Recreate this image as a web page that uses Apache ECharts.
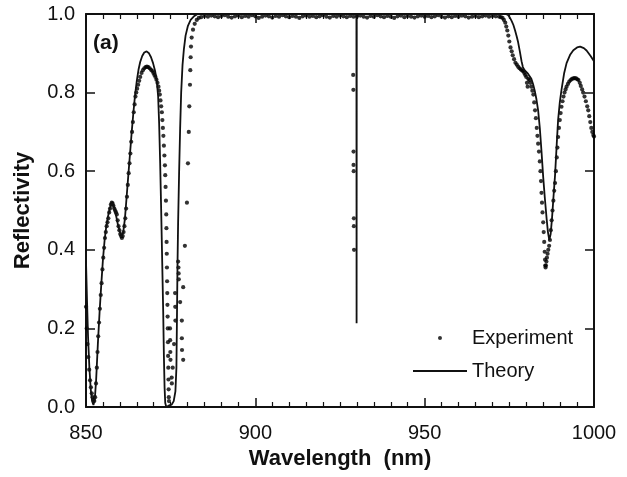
<!DOCTYPE html>
<html>
<head>
<meta charset="utf-8">
<script src="https://cdn.jsdelivr.net/npm/echarts@6/dist/echarts.min.js"></script>
<style>
  html, body { margin: 0; padding: 0; background: #fff; }
  #chart { width: 627px; height: 477px; }
</style>
</head>
<body>
<div id="chart"></div>
<script>
// wavelength (nm) / reflectivity
const expX = [
  850.0, 850.2, 850.45, 850.7, 850.95, 851.2, 851.45, 851.7, 851.95, 852.2, 852.45, 852.7, 852.95,
  853.2, 853.4, 853.6, 853.85, 854.1, 854.35, 854.6, 854.85, 855.1, 855.35, 855.6, 855.85, 856.1,
  856.35, 856.6, 856.85, 857.1, 857.35, 857.6, 857.85, 858.1, 858.35, 858.6, 858.85, 859.1, 859.35,
  859.6, 859.85, 860.1, 860.35, 860.6, 860.85, 861.1, 861.35, 861.6, 861.85, 862.1, 862.35, 862.6,
  862.85, 863.1, 863.35, 863.6, 863.85, 864.1, 864.35, 864.6, 864.85, 865.1, 865.4, 865.7, 866.0,
  866.4, 866.8, 867.2, 867.6, 868.0, 868.4, 868.8, 869.2, 869.6, 869.9, 870.2, 870.5, 870.8, 871.1,
  871.4, 871.6, 871.8, 872.0, 872.2, 872.4, 872.55, 872.7, 872.85, 873.0, 873.15, 873.3, 873.4,
  873.5, 873.6, 873.7, 873.75, 873.8, 873.85, 873.9, 873.95, 874.0, 874.05, 874.1, 874.15, 874.2,
  874.25, 874.3, 874.35, 874.4, 874.45, 874.5,
  874.8, 874.85, 874.9, 874.95, 875.3, 875.35, 875.6, 876.0, 876.3, 876.35, 876.4, 877.2, 877.3,
  877.35, 877.4, 877.8, 878.3, 878.3, 878.35, 878.7, 878.7, 879.2, 879.8, 880.1, 880.35, 880.5,
  880.7, 880.8, 880.9, 881.0, 881.2, 881.6, 882.1, 882.7, 883.3,
  884, 885, 886, 887, 888, 889, 890, 891, 892, 893, 894, 895, 896, 897, 898, 899, 900, 901, 902,
  903, 904, 905, 906, 907, 908, 909, 910, 911, 912, 913, 914, 915, 916, 917, 918, 919, 920, 921,
  922, 923, 924, 925, 926, 927, 928, 929,
  928.9, 928.95, 929.0, 929.0, 929.05, 929.1, 929.1, 929.15,
  930, 931, 932, 933, 934, 935, 936, 937, 938, 939, 940, 941, 942, 943, 944, 945, 946, 947, 948,
  949, 950, 951, 952, 953, 954, 955, 956, 957, 958, 959, 960, 961, 962, 963, 964, 965, 966, 967,
  968, 969, 970, 971, 972,
  972.5, 973.0, 973.4, 973.8, 974.1, 974.4, 974.7, 975.0, 975.35, 975.7, 976.0, 976.4, 976.8,
  977.2, 977.6, 978.0, 978.4, 978.8, 979.1, 979.4, 979.7, 980.0, 980.2, 980.4, 980.6, 980.9,
  981.2, 981.5, 981.8, 982.1, 982.35, 982.6, 982.85, 983.1, 983.3, 983.5, 983.75, 984.0, 984.2,
  984.35, 984.5, 984.65, 984.8, 985.0, 985.15, 985.3, 985.45, 985.55, 985.6, 985.7, 985.8, 985.95,
  986.1, 986.3, 986.5, 986.75, 987.0, 987.25, 987.5, 987.75, 988.0, 988.25, 988.5, 988.75, 989.0,
  989.2, 989.4, 989.65, 989.9, 990.15, 990.4, 990.7, 991.0, 991.3, 991.6, 991.9, 992.3, 992.7,
  993.1, 993.5, 993.9, 994.3, 994.7, 995.1, 995.4, 995.8, 996.1, 996.5, 996.8, 997.2, 997.6,
  998.0, 998.3, 998.6, 998.9, 999.2, 999.5, 999.8, 1000.0
];
const expY = [
  0.255, 0.20, 0.16, 0.127, 0.095, 0.068, 0.05, 0.035, 0.025, 0.018, 0.015, 0.025, 0.06,
  0.10, 0.14, 0.18, 0.215, 0.25, 0.285, 0.315, 0.35, 0.38, 0.405, 0.43, 0.445, 0.46,
  0.47, 0.48, 0.495, 0.505, 0.515, 0.52, 0.518, 0.512, 0.505, 0.50, 0.495, 0.49, 0.475,
  0.46, 0.45, 0.44, 0.435, 0.43, 0.435, 0.445, 0.46, 0.48, 0.505, 0.535, 0.565, 0.595,
  0.62, 0.645, 0.675, 0.70, 0.725, 0.75, 0.77, 0.79, 0.80, 0.81, 0.82, 0.83, 0.84,
  0.85, 0.857, 0.862, 0.865, 0.866, 0.865, 0.862, 0.858, 0.855, 0.85, 0.845, 0.84, 0.833, 0.825,
  0.815, 0.805, 0.795, 0.78, 0.765, 0.75, 0.73, 0.71, 0.69, 0.665, 0.64, 0.615, 0.59,
  0.56, 0.525, 0.49, 0.455, 0.42, 0.39, 0.355, 0.32, 0.29, 0.26, 0.23, 0.20, 0.165,
  0.13, 0.10, 0.07, 0.045, 0.025, 0.015,
  0.20, 0.17, 0.14, 0.12, 0.075, 0.06, 0.10, 0.16, 0.29, 0.255, 0.22, 0.37, 0.355,
  0.34, 0.325, 0.267, 0.22, 0.175, 0.145, 0.305, 0.12, 0.41, 0.52, 0.62, 0.70, 0.765,
  0.82, 0.857, 0.89, 0.917, 0.94, 0.96, 0.975, 0.985, 0.99,
  0.992, 0.995, 0.993, 0.996, 0.994, 0.992, 0.995, 0.997, 0.993, 0.991, 0.994, 0.996, 0.992, 0.995, 0.993, 0.997, 0.994, 0.990, 0.993,
  0.996, 0.994, 0.991, 0.995, 0.993, 0.997, 0.994, 0.992, 0.995, 0.993, 0.990, 0.994, 0.996, 0.993, 0.995, 0.992, 0.994, 0.997, 0.993,
  0.991, 0.995, 0.993, 0.996, 0.994, 0.992, 0.995, 0.993,
  0.845, 0.807, 0.65, 0.616, 0.60, 0.48, 0.46, 0.40,
  0.994, 0.996, 0.993, 0.991, 0.995, 0.993, 0.997, 0.994, 0.992, 0.995, 0.993, 0.990, 0.994, 0.996, 0.992, 0.995, 0.993, 0.991, 0.994,
  0.996, 0.993, 0.995, 0.992, 0.994, 0.997, 0.993, 0.991, 0.994, 0.992, 0.995, 0.993, 0.996, 0.994, 0.991, 0.993, 0.995, 0.992, 0.994,
  0.996, 0.993, 0.995, 0.994, 0.993,
  0.992, 0.99, 0.985, 0.978, 0.968, 0.958, 0.945, 0.93, 0.915, 0.905, 0.895, 0.885, 0.876,
  0.871, 0.866, 0.862, 0.859, 0.856, 0.855, 0.85, 0.845, 0.84, 0.825, 0.815, 0.835, 0.832,
  0.825, 0.815, 0.805, 0.795, 0.775, 0.755, 0.735, 0.71, 0.69, 0.67, 0.65, 0.625, 0.60,
  0.575, 0.545, 0.52, 0.495, 0.47, 0.445, 0.42, 0.395, 0.375, 0.36, 0.355, 0.36, 0.37,
  0.38, 0.39, 0.40, 0.41, 0.425, 0.45, 0.475, 0.50, 0.525, 0.55, 0.57, 0.60, 0.635,
  0.66, 0.687, 0.71, 0.73, 0.748, 0.764, 0.778, 0.79, 0.80, 0.808, 0.815, 0.822, 0.828,
  0.832, 0.835, 0.836, 0.837, 0.836, 0.834, 0.832, 0.825, 0.817, 0.808, 0.80, 0.79, 0.778,
  0.765, 0.755, 0.74, 0.725, 0.71, 0.70, 0.692, 0.688
];

const theoryX = [
  850.0, 850.3, 850.6, 851.0, 851.4, 851.8, 852.2, 852.6, 853.0, 853.5, 854.0, 854.5, 855.0,
  855.5, 856.0, 856.5, 857.0, 857.6, 858.2, 858.8, 859.4, 860.0, 860.6, 861.0, 861.5, 862.0,
  862.5, 863.0, 863.5, 864.0, 864.5, 865.0, 865.5, 866.0, 866.6, 867.2, 867.9, 868.6, 869.2,
  869.8, 870.4, 870.9, 871.3, 871.6, 871.9, 872.2, 872.5, 872.8, 873.0, 873.2, 873.4, 873.7,
  874.5, 875.3, 875.9, 876.4, 876.7, 876.85, 877.0, 877.2, 877.5, 877.8, 878.1, 878.5, 878.9,
  879.4, 880.1, 880.9, 882.0, 883.0,
  929.85, 929.9, 929.95,
  974.0, 974.7, 975.2, 975.7, 976.2, 976.7, 977.2, 977.6, 978.1, 978.6, 979.0, 979.5, 980.0,
  980.5, 981.0, 981.5, 982.0, 982.5, 983.0, 983.5, 984.0, 984.5, 985.0, 985.5, 986.0, 986.4,
  986.8, 987.2, 987.6, 988.0, 988.5, 989.0, 989.4, 989.9, 990.4, 991.2, 991.9, 993.0, 993.9,
  995.0, 995.9, 997.0, 997.8, 999.0, 1000.0
];
const theoryY = [
  0.37, 0.27, 0.18, 0.10, 0.045, 0.015, 0.005, 0.02, 0.07, 0.16, 0.24, 0.31, 0.375,
  0.425, 0.46, 0.485, 0.505, 0.52, 0.512, 0.49, 0.465, 0.445, 0.433, 0.445, 0.48, 0.535,
  0.59, 0.645, 0.70, 0.75, 0.795, 0.83, 0.858, 0.878, 0.893, 0.902, 0.905, 0.90, 0.89,
  0.875, 0.855, 0.83, 0.79, 0.72, 0.62, 0.50, 0.37, 0.24, 0.13, 0.05, 0.01, 0.0,
  0.004, 0.006, 0.015, 0.04, 0.10, 0.22, 0.35, 0.47, 0.60, 0.71, 0.80, 0.87, 0.91,
  0.945, 0.97, 0.985, 0.995, 1.0,
  1.0, 0.213, 1.0,
  1.0, 0.997, 0.99, 0.982, 0.972, 0.958, 0.942, 0.928, 0.905, 0.88, 0.865, 0.857, 0.852,
  0.848, 0.843, 0.835, 0.822, 0.805, 0.783, 0.755, 0.71, 0.65, 0.585, 0.53, 0.48, 0.445,
  0.425, 0.44, 0.48, 0.53, 0.59, 0.67, 0.73, 0.775, 0.807, 0.85, 0.875, 0.897, 0.908,
  0.915, 0.917, 0.913, 0.907, 0.893, 0.88
];

const xMin = 850, xMax = 1000, xStep = 50;
const yMin = 0, yMax = 1, yStep = 0.2;

const ink = '#111';
const font = 'Liberation Sans, Arial, sans-serif';

const chart = echarts.init(document.getElementById('chart'));

function xAxisBase(position, showLabel) {
  return {
    type: 'value',
    position,
    min: xMin,
    max: xMax,
    interval: xStep,
    axisLine: { show: true, onZero: false, lineStyle: { color: ink, width: 2 } },
    axisTick: { show: true, inside: true, length: 9, lineStyle: { color: ink, width: 1.5 } },
    minorTick: { show: true, splitNumber: 10, length: 5, lineStyle: { color: ink, width: 1.2 } },
    axisLabel: {
      show: showLabel, margin: 16, color: ink, fontSize: 20, fontFamily: font,
      formatter: v => String(v),
    },
    splitLine: { show: false },
  }
}

function yAxisBase(position, showLabel) {
  return {
    type: 'value',
    position,
    min: yMin,
    max: yMax,
    interval: yStep,
    axisLine: { show: true, onZero: false, lineStyle: { color: ink, width: 2 } },
    axisTick: { show: true, inside: true, length: 9, lineStyle: { color: ink, width: 1.5 } },
    axisLabel: {
      show: showLabel, margin: 11, color: ink, fontSize: 20, fontFamily: font,
      formatter: v => v.toFixed(1),
    },
    splitLine: { show: false },
  }
}

chart.setOption({
  animation: false,
  backgroundColor: '#fff',
  title: {
    text: '(a)',
    left: 93,
    top: 33,
    padding: 0,
    textStyle: { fontSize: 21, fontWeight: 'bold', fontFamily: font, color: ink },
  },
  legend: {
    orient: 'vertical',
    left: 413,
    top: 327,
    padding: 0,
    itemWidth: 54,
    itemHeight: 22,
    itemGap: 11,
    textStyle: { fontSize: 20, fontFamily: font, color: ink },
    data: [
      { name: 'Experiment', icon: 'path://M0,0h0.01M54,22h0.01M25,11a2,2 0 1,0 4,0a2,2 0 1,0 -4,0Z' },
      { name: 'Theory', icon: 'path://M0,0h0.01M54,22h0.01M0,10h54v2h-54Z' },
    ],
  },
  grid: { left: 86, right: 33, top: 14, bottom: 70, containLabel: false, outerBoundsMode: 'none' },
  xAxis: [
    {
      ...xAxisBase('bottom', true),
      name: 'Wavelength  (nm)',
      nameLocation: 'middle',
      nameGap: 34,
      nameTextStyle: { fontSize: 22, fontWeight: 'bold', fontFamily: font, color: ink },
    },
    xAxisBase('top', false),
  ],
  yAxis: [
    {
      ...yAxisBase('left', true),
      name: 'Reflectivity',
      nameLocation: 'middle',
      nameGap: 52,
      nameTextStyle: { fontSize: 22, fontWeight: 'bold', fontFamily: font, color: ink },
    },
    yAxisBase('right', false),
  ],
  series: [
    {
      name: 'Experiment',
      type: 'scatter',
      xAxisIndex: 0,
      yAxisIndex: 0,
      symbol: 'circle',
      symbolSize: 4.2,
      itemStyle: { color: '#000' },
      data: expX.map((x, i) => [x, expY[i]]),
    },
    {
      name: 'Theory',
      type: 'line',
      xAxisIndex: 0,
      yAxisIndex: 0,
      symbol: 'none',
      showSymbol: false,
      lineStyle: { color: ink, width: 1.8 },
      itemStyle: { color: ink },
      data: theoryX.map((x, i) => [x, theoryY[i]]),
    },
  ],
});
</script>
</body>
</html>
